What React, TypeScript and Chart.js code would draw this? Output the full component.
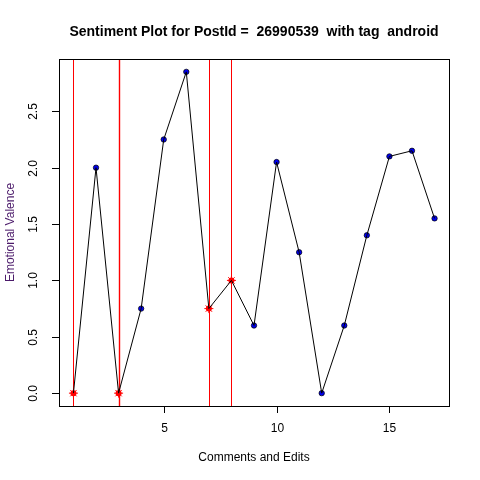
import { Chart, registerables } from "chart.js";
import { useEffect, useRef } from "react";

Chart.register(...registerables);

const xs = [1, 2, 3, 4, 5, 6, 7, 8, 9, 10, 11, 12, 13, 14, 15, 16, 17];
const valence = [0, 2.0, 0, 0.75, 2.25, 2.85, 0.75, 1.0, 0.6, 2.05, 1.25, 0, 0.6, 1.4, 2.1, 2.15, 1.55];
const editPoints = [1, 3, 7, 8];
const vLines = [1, 3, 7, 8];
const xTicks = [5, 10, 15];
const yTicks = [0, 0.5, 1.0, 1.5, 2.0, 2.5];

const FONT = "'Liberation Sans', Arial, sans-serif";

const rPlot = {
  id: "rplot",
  beforeDatasetsDraw(chart: any) {
    const { ctx, chartArea: a, scales } = chart;
    ctx.save();
    vLines.forEach((v, i) => {
      const px = Math.round(scales.x.getPixelForValue(v)) + 0.5;
      ctx.strokeStyle = "#ff0000";
      ctx.lineWidth = i === 1 ? 1.4 : 1;
      ctx.beginPath();
      ctx.moveTo(px, a.top);
      ctx.lineTo(px, a.bottom);
      ctx.stroke();
    });
    ctx.restore();
  },
  afterDraw(chart: any) {
    const { ctx, chartArea: a, scales } = chart;
    ctx.save();
    ctx.strokeStyle = "#000";
    ctx.lineWidth = 1;
    ctx.strokeRect(Math.round(a.left) + 0.5, Math.round(a.top) + 0.5, Math.round(a.right - a.left), Math.round(a.bottom - a.top));
    ctx.fillStyle = "#000";
    ctx.font = `12px ${FONT}`;
    ctx.textAlign = "center";
    ctx.textBaseline = "top";
    xTicks.forEach((v) => {
      const px = Math.round(scales.x.getPixelForValue(v)) + 0.5;
      ctx.beginPath();
      ctx.moveTo(px, a.bottom);
      ctx.lineTo(px, a.bottom + 7);
      ctx.stroke();
      ctx.fillText(String(v), px, a.bottom + 17);
    });
    yTicks.forEach((v) => {
      const py = Math.round(scales.y.getPixelForValue(v)) + 0.5;
      ctx.beginPath();
      ctx.moveTo(a.left, py);
      ctx.lineTo(a.left - 7, py);
      ctx.stroke();
      ctx.save();
      ctx.translate(a.left - 25, py);
      ctx.rotate(-Math.PI / 2);
      ctx.textBaseline = "middle";
      ctx.fillText(v.toFixed(1), 0, 0);
      ctx.restore();
    });
    const cx = (a.left + a.right) / 2;
    ctx.textBaseline = "middle";
    ctx.fillText("Comments and Edits", cx, 458);
    ctx.font = `bold 14px ${FONT}`;
    ctx.fillText("Sentiment Plot for PostId =  26990539  with tag  android", cx, 32);
    ctx.font = `12px ${FONT}`;
    ctx.fillStyle = "#4b1a6a";
    ctx.translate(11, (a.top + a.bottom) / 2);
    ctx.rotate(-Math.PI / 2);
    ctx.fillText("Emotional Valence", 0, 0);
    ctx.restore();
  },
};

export default function App() {
  const canva = useRef<HTMLCanvasElement | null>(null);

  useEffect(() => {
    document.body.style.margin = "0";
    if (!canva.current) return;
    const line = xs.map((x, i) => ({ x, y: valence[i] }));
    const edits = editPoints.map((x) => ({ x, y: valence[xs.indexOf(x)] }));
    const blue = line.filter((p) => !editPoints.includes(p.x));
    const chart = new Chart(canva.current, {
      type: "scatter",
      data: {
        datasets: [
          { data: line, showLine: true, borderColor: "#000", borderWidth: 1, pointRadius: 0 },
          { data: blue, pointRadius: 2.7, backgroundColor: "#0000ee", borderColor: "#000", borderWidth: 0.7 },
          { data: edits, pointRadius: 3, backgroundColor: "#ff0000", borderColor: "#ff0000", borderWidth: 0 },
          { data: edits, pointStyle: "star", pointRadius: 4.5, borderColor: "#ff0000", borderWidth: 1 },
        ],
      },
      options: {
        animation: false,
        responsive: false,
        layout: { padding: { top: 59, right: 31, left: 0, bottom: 0 } },
        plugins: { legend: { display: false }, tooltip: { enabled: false } },
        scales: {
          x: {
            type: "linear", min: 0.36, max: 17.64,
            grid: { display: false }, border: { display: false }, ticks: { display: false },
            afterFit: (s: any) => { s.height = 74; },
          },
          y: {
            type: "linear", min: -0.114, max: 2.964,
            grid: { display: false }, border: { display: false }, ticks: { display: false },
            afterFit: (s: any) => { s.width = 59; },
          },
        },
      },
      plugins: [rPlot],
    });
    return () => chart.destroy();
  }, []);

  return <canvas ref={canva} width={480} height={480} style={{ display: "block" }} />;
}
